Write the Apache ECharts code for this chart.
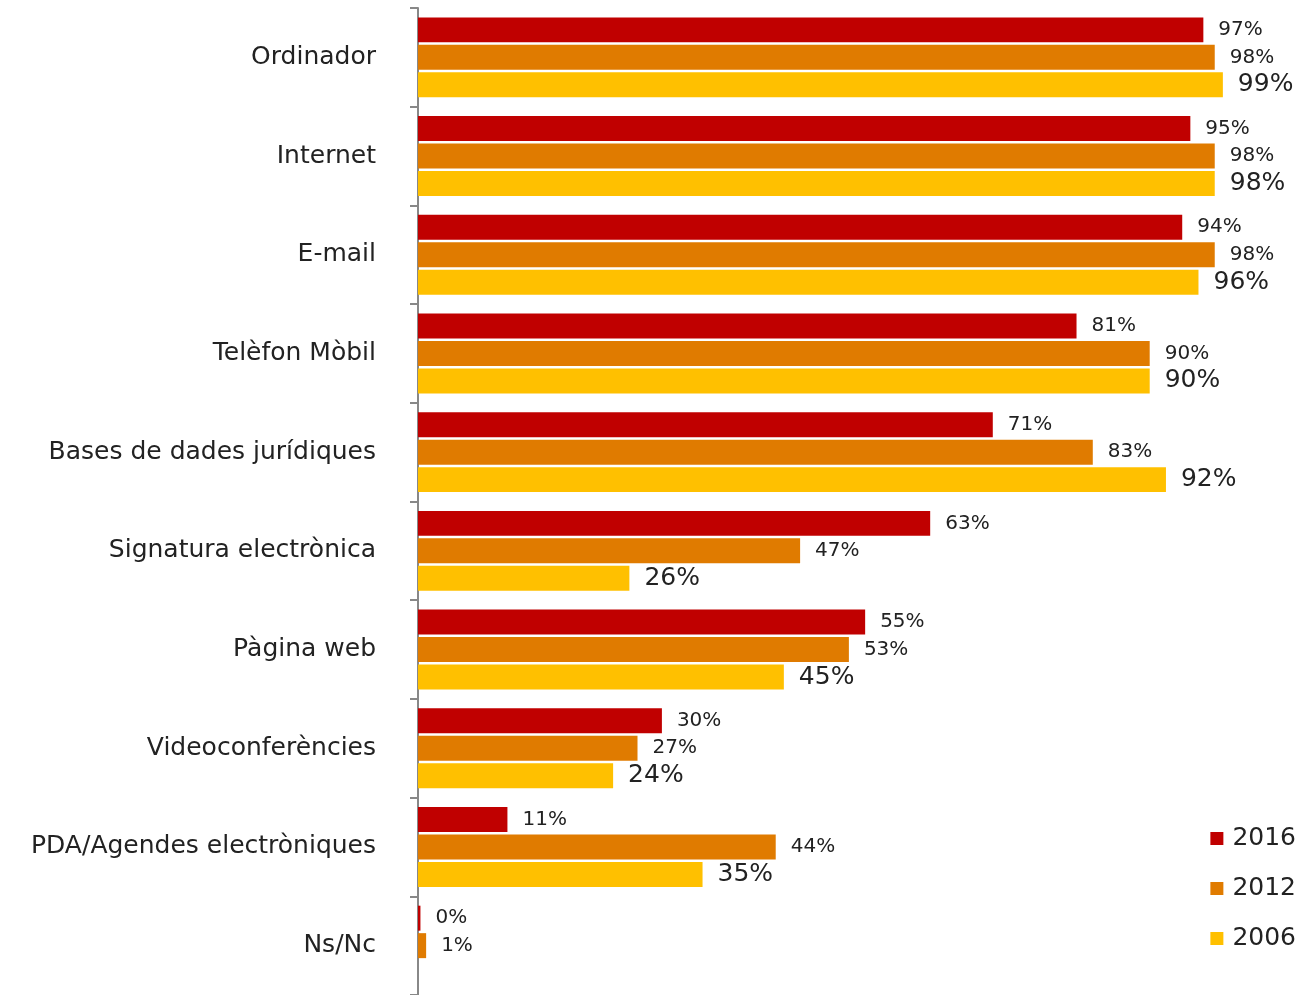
<!DOCTYPE html>
<html><head><meta charset="utf-8">
<script src="https://cdn.jsdelivr.net/npm/echarts@6/dist/echarts.min.js"></script>
<style>html,body{margin:0;padding:0;background:#fff}#c{width:1299px;height:995px}</style>
</head><body><div id="c"></div>
<script>
const categories = ["Ordinador","Internet","E-mail","Telèfon Mòbil","Bases de dades jurídiques","Signatura electrònica","Pàgina web","Videoconferències","PDA/Agendes electròniques","Ns/Nc"];
const seriesNames = ["2016","2012","2006"];
const v2016 = [96.6,95,94,81,70.7,63,55,30,11,0.3];
const v2012 = [98,98,98,90,83,47,53,27,44,1];
const v2006 = [99,98,96,90,92,26,45,24,35,null];
const colors = ["#C00000","#E07B00","#FFC000"];
const FONT = "DejaVu Sans";

const chart = echarts.init(document.getElementById('c'), null, {renderer:'canvas'});
function mk(name, data, color, fs){
  return {
    name, type:'bar', data, barCategoryGap:'19%', barGap:'10%',
    itemStyle:{color},
    label:{show:true, position:'right', distance:15, fontFamily:FONT, fontSize:fs, color:'#222',
      formatter:p=> p.value==null? '' : Math.round(p.value)+'%'}
  };
}
chart.setOption({
  animation:false,
  grid:{left:418, top:8, width:813, height:990},
  legend:{orient:'vertical', right:3, top:826, padding:0, itemWidth:13, itemHeight:13, itemGap:25, icon:'rect',
    textStyle:{fontFamily:FONT, fontSize:25, color:'#222', padding:[0,0,0,4]}, data:seriesNames},
  xAxis:{type:'value', min:0, max:100, show:false},
  yAxis:{type:'category', inverse:true, data:categories,
    axisLine:{lineStyle:{color:'#888', width:2}},
    axisTick:{show:true, length:8, lineStyle:{color:'#888', width:2}},
    axisLabel:{margin:42, fontFamily:FONT, fontSize:25, color:'#222', padding:[3,0,0,0]}},
  series:[mk(seriesNames[0], v2016, colors[0], 20), mk(seriesNames[1], v2012, colors[1], 20), mk(seriesNames[2], v2006, colors[2], 25)]
});
</script></body></html>
